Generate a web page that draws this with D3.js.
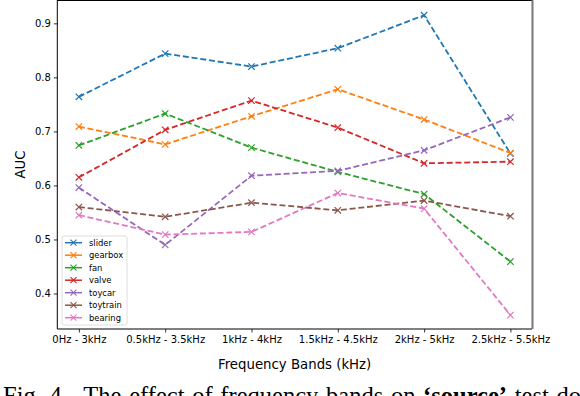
<!DOCTYPE html>
<html lang="en">
  <head>
    <meta charset="utf-8">
    <title>AUC vs frequency bands</title>
    <script src="https://d3js.org/d3.v7.min.js"></script>
    <style>
      body { margin: 0; background: #fff; }
      svg { display: block; font-family: "DejaVu Sans", sans-serif; }
    </style>
  </head>
  <body>
    <div class="chart"></div>
    <script>
      // data
      const bands = ["0Hz - 3kHz", "0.5kHz - 3.5kHz", "1kHz - 4kHz", "1.5kHz - 4.5kHz", "2kHz - 5kHz", "2.5kHz - 5.5kHz"];
      const machines = ["slider", "gearbox", "fan", "valve", "toycar", "toytrain", "bearing"];
      const slider   = [0.764, 0.844, 0.820, 0.854, 0.915, 0.659];
      const gearbox  = [0.709, 0.676, 0.728, 0.778, 0.722, 0.660];
      const fan      = [0.674, 0.733, 0.670, 0.625, 0.584, 0.459];
      const valve    = [0.615, 0.703, 0.757, 0.707, 0.641, 0.644];
      const toycar   = [0.596, 0.490, 0.618, 0.627, 0.665, 0.726];
      const toytrain = [0.560, 0.542, 0.568, 0.554, 0.572, 0.543];
      const bearing  = [0.545, 0.509, 0.514, 0.586, 0.557, 0.360];
      const yTicks = [0.4, 0.5, 0.6, 0.7, 0.8, 0.9];

      const series = [slider, gearbox, fan, valve, toycar, toytrain, bearing];
      const colors = ["#1f77b4", "#ff7f0e", "#2ca02c", "#d62728", "#9467bd", "#8c564b", "#e377c2"];

      const width = 580, height = 396;
      const plotLeft = 57.3, plotRight = 532, plotTop = 0, plotBottom = 329;

      const svg = d3.select('.chart')
          .append('svg')
          .attr('width', width)
          .attr('height', height);

      const xScale = d3.scaleLinear()
          .domain([-0.25, bands.length - 0.75])
          .range([plotLeft, plotRight]);

      const yScale = d3.scaleLinear()
          .domain([0.3343, 0.9432])
          .range([plotBottom, plotTop]);

      const xAxis = d3.axisBottom(xScale)
          .tickValues(d3.range(bands.length))
          .tickFormat(i => bands[i])
          .tickSize(3.5)
          .tickPadding(3.5);

      const yAxis = d3.axisLeft(yScale)
          .tickValues(yTicks)
          .tickFormat(d3.format('.1f'))
          .tickSize(3.5)
          .tickPadding(3);

      const gx = svg.append('g')
          .attr('transform', `translate(0,${plotBottom})`)
          .call(xAxis);
      const gy = svg.append('g')
          .attr('transform', `translate(${plotLeft},0)`)
          .call(yAxis);
      [gx, gy].forEach(g => {
        g.select('.domain').remove();
        g.selectAll('text').attr('font-size', 10).attr('font-family', '"DejaVu Sans", sans-serif').attr('fill', '#000');
        g.selectAll('line').attr('stroke', '#000').attr('stroke-width', 0.8);
      });

      // lines + x markers
      const line = d3.line()
          .x((d, i) => xScale(i))
          .y(d => yScale(d));

      const plot = svg.append('g');
      series.forEach((vals, k) => {
        plot.append('path')
            .datum(vals)
            .attr('d', line)
            .attr('fill', 'none')
            .attr('stroke', colors[k])
            .attr('stroke-width', 1.8)
            .attr('stroke-dasharray', '6,2.8');
        plot.selectAll(null)
            .data(vals)
            .enter()
            .append('path')
            .attr('d', 'M-3.2,-3.2L3.2,3.2M-3.2,3.2L3.2,-3.2')
            .attr('transform', (d, i) => `translate(${xScale(i)},${yScale(d)})`)
            .attr('stroke', colors[k])
            .attr('stroke-width', 1.2)
            .attr('fill', 'none');
      });

      // spines
      svg.append('line').attr('x1', plotLeft).attr('x2', plotLeft).attr('y1', plotTop).attr('y2', plotBottom)
          .attr('stroke', '#000').attr('stroke-width', 1);
      svg.append('line').attr('x1', plotLeft).attr('x2', plotRight).attr('y1', plotBottom).attr('y2', plotBottom)
          .attr('stroke', '#000').attr('stroke-width', 1);
      svg.append('line').attr('x1', plotLeft).attr('x2', plotRight).attr('y1', 0.5).attr('y2', 0.5)
          .attr('stroke', '#000').attr('stroke-width', 1);
      svg.append('line').attr('x1', plotRight + 0.5).attr('x2', plotRight + 0.5).attr('y1', 0).attr('y2', plotBottom)
          .attr('stroke', '#777').attr('stroke-width', 2);

      // legend
      const legend = svg.append('g').attr('transform', 'translate(62,236)');
      legend.append('rect')
          .attr('width', 65).attr('height', 89).attr('rx', 2)
          .attr('fill', '#fff').attr('fill-opacity', 0.8)
          .attr('stroke', '#d5d5d5').attr('stroke-width', 0.8);
      machines.forEach((name, k) => {
        const y = 6.7 + k * 12.5;
        legend.append('line')
            .attr('x1', 3).attr('x2', 20).attr('y1', y).attr('y2', y)
            .attr('stroke', colors[k]).attr('stroke-width', 1.5);
        legend.append('path')
            .attr('d', 'M-3,-3L3,3M-3,3L3,-3')
            .attr('transform', `translate(11.5,${y})`)
            .attr('stroke', colors[k]).attr('stroke-width', 1.1);
        legend.append('text')
            .attr('x', 27).attr('y', y + 3)
            .attr('font-size', 8.4)
            .text(name);
      });

      // axis titles
      svg.append('text')
          .attr('x', (plotLeft + plotRight) / 2)
          .attr('y', 369)
          .attr('text-anchor', 'middle')
          .attr('font-size', 13.3)
          .text('Frequency Bands (kHz)');

      svg.append('text')
          .attr('transform', `translate(25,${(plotTop + plotBottom) / 2}) rotate(-90)`)
          .attr('text-anchor', 'middle')
          .attr('font-size', 13.3)
          .text('AUC');

      // caption (cut off at bottom, as in the figure)
      const cap = svg.append('text')
          .attr('x', 3)
          .attr('y', 404)
          .attr('font-family', '"Liberation Serif", "Times New Roman", serif')
          .attr('font-size', 24.5)
          .attr('word-spacing', 1.6);
      cap.append('tspan').text('Fig. 4.\u00a0\u00a0The effect of frequency bands on ');
      cap.append('tspan').attr('font-weight', 'bold').text('\u2018source\u2019');
      cap.append('tspan').text(' test domain');
    </script>
  </body>
</html>
